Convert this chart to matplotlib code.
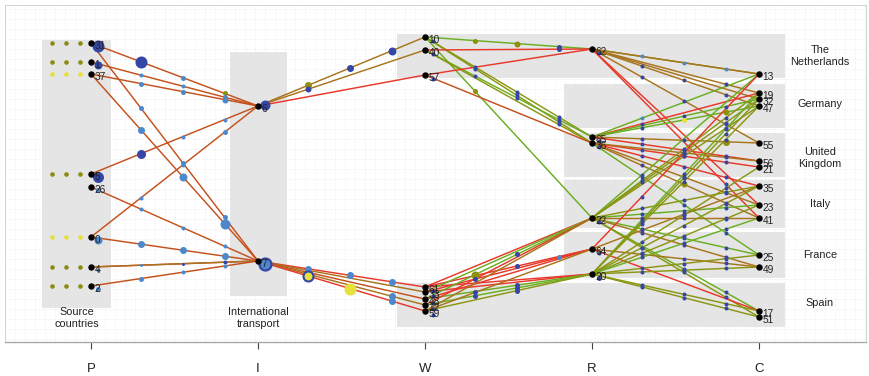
import matplotlib
matplotlib.use("Agg")
import matplotlib.pyplot as plt
from matplotlib.patches import Rectangle
import numpy as np

plt.rcParams['font.family'] = ['Liberation Sans', 'DejaVu Sans']

# ---------------- data ----------------
stage_labels = ["P", "I", "W", "R", "C"]

P_nodes = ["31", "1", "37", "5", "26", "0", "4", "2"]
P_y = [43, 62, 74, 174, 187, 237, 267, 286]
P_flags = ["vvv", "vvv", "yyy", "vvv", "", "yyy", "vvv", "vvv"]   # small source markers
P_circ_col = ["B", "B", "B", "B", "L", "L", "L", "L"]
P_circ_val = [6, 4, 0, 5.5, 2.5, 4, 2, 2.5]

I_nodes = ["6", "7"]
I_y = [106, 261]
I_circ_col = ["B", "RL"]
I_circ_val = [5, 6]

W_nodes = ["10", "40", "57", "61", "33", "48", "12", "59"]
W_y = [37, 50, 75, 287, 292, 299, 305, 311]
W_circ_val = [2, 2, 2, 2, 2, 2, 2, 2]

R_nodes = ["62", "65", "36", "22", "64", "20"]
R_y = [49, 137, 143, 218, 249, 274]
R_circ_val = [2, 2, 2, 2, 2, 2.5]

C_nodes = ["13", "19", "32", "47", "55", "56", "21", "35", "23", "41", "25", "49", "17", "51"]
C_y = [74, 93, 99, 106, 143, 161, 167, 186, 205, 218, 255, 267, 311, 317]

countries = ["The\nNetherlands", "Germany", "United\nKingdom", "Italy", "France", "Spain"]
country_y = [56, 104, 158, 204, 255, 303]
country_top = [34, 84, 133, 180, 232, 283]
country_bottom = [78, 128, 177, 228, 278, 327]

# edges: (from, to, line colour, dot colours, dot values)
PI_edges = [
    ("31", "6", "o", "BLO", (6, 2.5, 2.5)),
    ("31", "7", "o", "LLL", (2.5, 2.5, 2.5)),
    ("1", "6", "o", "LLL", (2, 2, 2.5)),
    ("37", "6", "o", "LLL", (2.5, 2.5, 3)),
    ("37", "7", "o", "LLL", (3.5, 4, 5)),
    ("5", "6", "o", "BLL", (4.5, 2, 2)),
    ("26", "7", "o", "LLL", (2, 2, 2)),
    ("0", "6", "o", "LLL", (2, 2, 2.5)),
    ("0", "7", "o", "LLL", (3.5, 3.5, 3.5)),
    ("4", "7", "r", "LBB", (1.5, 1.5, 2)),
    ("4", "7", "b", "LLL", (0, 0, 0)),
    ("2", "7", "o", "LLL", (2.5, 2, 2)),
]

IW_edges = [
    ("6", "10", "b", "OBB", (3.5, 3.5, 4)),
    ("6", "40", "b", "BBB", (3, 0, 0)),
    ("6", "57", "r", "BBB", (0, 0, 0)),
    ("7", "61", "r", "LLL", (3.5, 3.5, 3.5)),
    ("7", "33", "b", "LLL", (0, 0, 0)),
    ("7", "48", "o", "LLL", (0, 0, 0)),
    ("7", "12", "b", "LLL", (0, 0, 3.5)),
    ("7", "59", "r", "RYL", (5, 6, 3.5)),
]

WR_edges = [
    ("10", "62", "g", "OOB", (2.5, 3, 2.5)),
    ("10", "65", "v", "BBB", (2, 2, 2)),
    ("10", "36", "v", "BBB", (2, 2, 2)),
    ("10", "22", "g", "OBB", (2.5, 0, 0)),
    ("40", "62", "r", "BBB", (0, 0, 2.5)),
    ("40", "65", "g", "BBB", (2, 2, 2)),
    ("40", "36", "v", "BBB", (0, 0, 2)),
    ("57", "62", "r", "BBB", (0, 0, 0)),
    ("57", "36", "o", "BBB", (0, 0, 0)),
    ("61", "22", "r", "BBB", (0, 0, 0)),
    ("61", "64", "r", "BBL", (0, 2.5, 2.5)),
    ("61", "20", "r", "BBB", (0, 0, 0)),
    ("33", "22", "g", "BBB", (0, 0, 0)),
    ("33", "64", "r", "BBB", (0, 0, 0)),
    ("33", "20", "r", "BBB", (0, 0, 0)),
    ("48", "22", "g", "OBB", (4, 2.5, 0)),
    ("48", "64", "r", "BBB", (0, 0, 0)),
    ("48", "20", "g", "BBB", (2.5, 2.5, 0)),
    ("12", "22", "r", "BBB", (2.5, 0, 0)),
    ("12", "20", "g", "BBB", (2.5, 2.5, 0)),
    ("59", "22", "b", "BBB", (0, 0, 0)),
    ("59", "64", "b", "BBB", (0, 0, 0)),
    ("59", "20", "v", "BBB", (0, 2.5, 0)),
]

RC_edges = [
    ("62", "13", "v", "LLL", (2, 2, 2)),
    ("62", "13", "b", "BBB", (0, 0, 0)),
    ("62", "19", "b", "BBB", (0, 0, 2)),
    ("62", "32", "b", "BBB", (0, 0, 0)),
    ("62", "47", "b", "BBB", (2, 2, 2)),
    ("62", "55", "b", "BBB", (2, 2, 2)),
    ("62", "41", "r", "BBB", (0, 0, 2)),
    ("62", "23", "r", "BBB", (0, 0, 0)),
    ("65", "13", "g", "LBB", (2, 0, 0)),
    ("65", "19", "r", "BBB", (2, 0, 0)),
    ("65", "32", "g", "BBB", (0, 2, 2)),
    ("65", "47", "g", "BYO", (2, 2.5, 3)),
    ("65", "55", "b", "BBO", (2, 2, 3.5)),
    ("65", "56", "r", "BBB", (2, 2, 2)),
    ("36", "21", "r", "BBB", (2, 2, 2)),
    ("36", "56", "b", "BBB", (0, 2, 2)),
    ("36", "35", "r", "BBB", (2, 2, 2)),
    ("36", "41", "b", "BOB", (2, 3, 2)),
    ("36", "23", "b", "BBB", (0, 2, 2)),
    ("36", "25", "g", "BBB", (2, 2, 2)),
    ("22", "13", "g", "BBB", (2, 0, 0)),
    ("22", "19", "v", "BBB", (2, 2, 2)),
    ("22", "32", "v", "BBB", (2, 2, 2)),
    ("22", "47", "v", "BBB", (0, 2, 2)),
    ("22", "35", "v", "BBB", (2, 2, 2)),
    ("22", "23", "g", "BBB", (2, 2, 2)),
    ("22", "41", "b", "BBB", (2, 2, 2)),
    ("22", "25", "g", "BBB", (2, 2, 2)),
    ("22", "49", "b", "BBB", (2, 2, 2)),
    ("22", "17", "g", "BBB", (0, 2, 2)),
    ("22", "51", "v", "BBB", (2, 2, 2)),
    ("64", "13", "r", "BBB", (2, 0, 0)),
    ("64", "49", "b", "BBB", (2, 2, 2)),
    ("64", "17", "r", "BBB", (0, 0, 0)),
    ("64", "35", "b", "BBB", (2, 2, 0)),
    ("20", "19", "g", "BBB", (2, 2, 2)),
    ("20", "32", "v", "BBB", (2, 2, 2)),
    ("20", "47", "v", "BBB", (2, 2, 2)),
    ("20", "21", "v", "BBB", (2, 2, 2)),
    ("20", "35", "v", "BBB", (2, 2, 2)),
    ("20", "23", "v", "BBB", (2, 2, 2)),
    ("20", "41", "g", "BBB", (2, 2, 2)),
    ("20", "25", "v", "BBB", (2, 2, 2)),
    ("20", "49", "v", "BBB", (2, 2, 2)),
    ("20", "17", "v", "BBB", (2, 2, 2)),
    ("20", "51", "v", "BBB", (2, 2, 2)),
]

# ---------------- style ----------------
LINE_COL = {'o': '#c4511c', 'r': '#e8382a', 'b': '#a8741c', 'v': '#8a9612', 'g': '#6aae22'}
DOT_COL = {'B': '#3446a6', 'L': '#4d88cc', 'O': '#8f8f0a', 'Y': '#e6e23a', 'R': '#e6e23a'}
FLAG_COL = {'v': '#8c8c14', 'y': '#e6e03c'}
GRAY = '#e5e5e5'

def px2x(px):
    return 1 + (px - 91) / 167.0

def s_of(r):
    return (2 * r * 72 / 100.0) ** 2

fig = plt.figure(figsize=(8.69, 3.76), dpi=100)
ax = fig.add_axes([5 / 869, 1 - 342 / 376, 861 / 869, 337 / 376])
ax.set_xlim(px2x(5), px2x(866))
ax.set_ylim(342, 5)

# dotted grid
for gx in np.arange(px2x(5), px2x(866), 10 / 167.0):
    ax.axvline(gx, color='#e2e2e2', lw=0.5, ls=(0, (1, 2)), zorder=0)
for gy in np.arange(9, 342, 10):
    ax.axhline(gy, color='#e2e2e2', lw=0.5, ls=(0, (1, 2)), zorder=0)

# grey boxes
ax.add_patch(Rectangle((1 - 0.293, 40), 0.413, 268, color=GRAY, lw=0, zorder=1))
ax.add_patch(Rectangle((2 - 0.168, 52), 0.342, 244, color=GRAY, lw=0, zorder=1))
for i, (t, b) in enumerate(zip(country_top, country_bottom)):
    left = 3 - 0.168 if i in (0, len(countries) - 1) else 4 - 0.168
    ax.add_patch(Rectangle((left, t), 5.156 - left, b - t, color=GRAY, lw=0, zorder=1))
    ax.text(px2x(820), country_y[i], countries[i], ha='center', va='center',
            fontsize=7.8, color='#222222', linespacing=1.15, zorder=5)

stage_nodes = [dict(zip(P_nodes, P_y)), dict(zip(I_nodes, I_y)), dict(zip(W_nodes, W_y)),
               dict(zip(R_nodes, R_y)), dict(zip(C_nodes, C_y))]
FR = [0.3, 0.55, 0.8]

def draw_edges(edges, k):
    for (a, b, c, dc, dv) in edges:
        x1, y1 = k + 1, stage_nodes[k][a]
        x2, y2 = k + 2, stage_nodes[k + 1][b]
        ax.plot([x1, x2], [y1, y2], color=LINE_COL[c], lw=1.05, zorder=2,
                solid_capstyle='round')
    for (a, b, c, dc, dv) in edges:
        x1, y1 = k + 1, stage_nodes[k][a]
        x2, y2 = k + 2, stage_nodes[k + 1][b]
        for f, code, v in zip(FR, dc, dv):
            if v <= 0:
                continue
            xx, yy = x1 + f * (x2 - x1), y1 + f * (y2 - y1)
            if code == 'R':
                ax.scatter([xx], [yy], s=s_of(v), color=DOT_COL['Y'], edgecolors='#3446a6',
                           linewidths=1.5, zorder=3)
            else:
                ax.scatter([xx], [yy], s=s_of(v), color=DOT_COL[code], lw=0, zorder=3)

draw_edges(PI_edges, 0)
draw_edges(IW_edges, 1)
draw_edges(WR_edges, 2)
draw_edges(RC_edges, 3)

# source flags
for y, fl in zip(P_y, P_flags):
    for j, ch in enumerate(fl):
        ax.scatter([px2x(52 + 14 * j)], [y], s=s_of(2.3), color=FLAG_COL[ch], lw=0, zorder=3)

# node circles (attached to nodes)
off = 7 / 167.0
for y, c, v in zip(P_y, P_circ_col, P_circ_val):
    if v > 0:
        ax.scatter([1 + off], [y + 3], s=s_of(v), color=DOT_COL[c], lw=0, zorder=4)
for y, c, v in zip(I_y, I_circ_col, I_circ_val):
    if c == 'RL':
        ax.scatter([2 + off], [y + 3], s=s_of(v), color=DOT_COL['L'], edgecolors='#3446a6',
                   linewidths=1.6, zorder=4)
    else:
        ax.scatter([2 + off], [y - 1], s=s_of(v), color=DOT_COL[c], lw=0, zorder=4)
for y, v in zip(W_y, W_circ_val):
    ax.scatter([3 + 0.05], [y + 4], s=s_of(v), color=DOT_COL['B'], lw=0, zorder=4)
for y, v in zip(R_y, R_circ_val):
    ax.scatter([4 + 0.04], [y + 4], s=s_of(v), color=DOT_COL['B'], lw=0, zorder=4)

# black nodes and labels
for k, nd in enumerate(stage_nodes):
    for name, y in nd.items():
        ax.scatter([k + 1], [y], s=s_of(3.2), color='black', lw=0, zorder=5)
        ax.annotate(name, (k + 1, y), xytext=(2.5, -2.5), textcoords='offset points',
                    ha='left', va='center', fontsize=7.3, color='#222222', zorder=6)

ax.text(px2x(77), 318, "Source\ncountries", ha='center', va='center', fontsize=7.8,
        color='#222222', linespacing=1.15, zorder=5)
ax.text(px2x(258), 318, "International\ntransport", ha='center', va='center', fontsize=7.8,
        color='#222222', linespacing=1.15, zorder=5)

ax.set_xticks([1, 2, 3, 4, 5])
ax.set_xticklabels(stage_labels, fontsize=9.5, color='#222222')
ax.tick_params(axis='x', length=5, width=0.8, color='#444444', pad=10)
ax.set_yticks([])
for side in ['top', 'left', 'right']:
    ax.spines[side].set_color('#cccccc')
    ax.spines[side].set_linewidth(0.6)
ax.spines['bottom'].set_color('#aaaaaa')
ax.spines['bottom'].set_linewidth(1.0)

fig.savefig("out.png", dpi=100)
